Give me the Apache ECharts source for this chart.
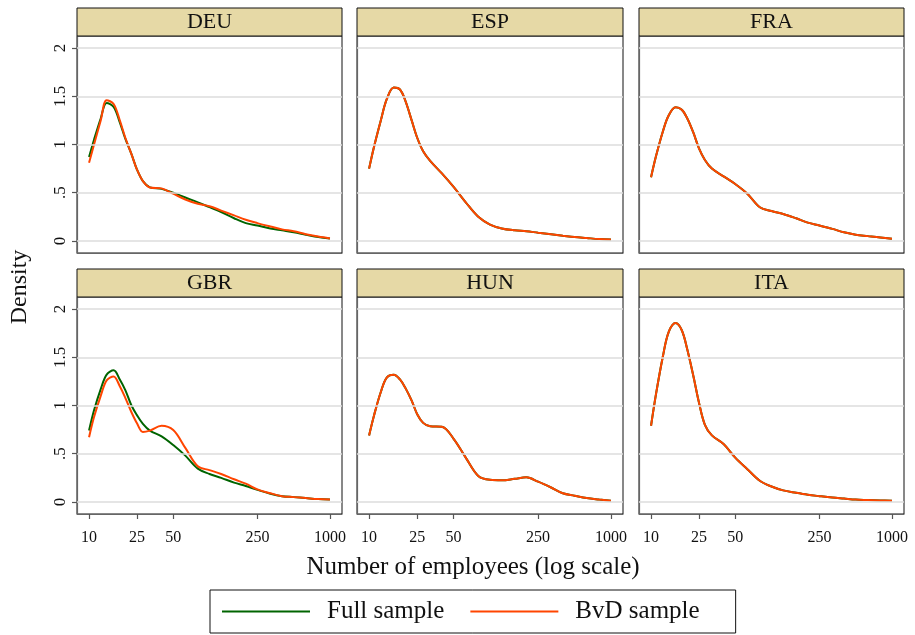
<!DOCTYPE html>
<html>
<head>
<meta charset="utf-8">
<script src="https://cdn.jsdelivr.net/npm/echarts@6/dist/echarts.min.js"></script>
<style>
html, body { margin: 0; padding: 0; background: #fff; }
#chart { width: 915px; height: 635px; }
</style>
</head>
<body>
<div id="chart"></div>
<script>
// Firm-size densities by country, full population vs. BvD subsample
const countries = ['DEU', 'ESP', 'FRA', 'GBR', 'HUN', 'ITA'];
const employees = [10, 11, 12.5, 14, 16, 18, 20, 22.5, 25, 28, 32, 40, 50, 63, 80, 100, 125, 160, 200, 250, 320, 400, 500, 630, 800, 1000];

const fullDEU = [0.87, 1.05, 1.27, 1.43, 1.39, 1.23, 1.06, 0.90, 0.74, 0.62, 0.555, 0.54, 0.50, 0.45, 0.40, 0.35, 0.30, 0.235, 0.185, 0.16, 0.13, 0.11, 0.09, 0.065, 0.04, 0.025];
const bvdDEU  = [0.81, 1.00, 1.25, 1.46, 1.42, 1.25, 1.07, 0.90, 0.74, 0.62, 0.555, 0.545, 0.49, 0.43, 0.385, 0.36, 0.315, 0.265, 0.22, 0.185, 0.15, 0.12, 0.10, 0.07, 0.045, 0.025];

const fullESP = [0.75, 0.98, 1.25, 1.47, 1.59, 1.57, 1.45, 1.25, 1.07, 0.93, 0.83, 0.70, 0.56, 0.40, 0.25, 0.17, 0.13, 0.11, 0.10, 0.085, 0.07, 0.055, 0.04, 0.03, 0.02, 0.015];
const bvdESP  = [0.75, 0.98, 1.25, 1.47, 1.59, 1.57, 1.45, 1.25, 1.07, 0.93, 0.83, 0.70, 0.56, 0.40, 0.25, 0.17, 0.13, 0.11, 0.10, 0.085, 0.07, 0.055, 0.04, 0.03, 0.02, 0.015];

const fullFRA = [0.66, 0.88, 1.13, 1.30, 1.385, 1.36, 1.27, 1.12, 0.96, 0.84, 0.75, 0.67, 0.59, 0.49, 0.35, 0.31, 0.28, 0.235, 0.19, 0.16, 0.125, 0.09, 0.065, 0.05, 0.035, 0.024];
const bvdFRA  = [0.66, 0.88, 1.13, 1.30, 1.385, 1.36, 1.27, 1.12, 0.96, 0.84, 0.75, 0.67, 0.59, 0.49, 0.35, 0.31, 0.28, 0.235, 0.19, 0.16, 0.125, 0.09, 0.065, 0.05, 0.035, 0.024];

const fullGBR = [0.74, 0.95, 1.17, 1.32, 1.365, 1.27, 1.16, 1.00, 0.90, 0.81, 0.74, 0.68, 0.59, 0.48, 0.345, 0.29, 0.25, 0.20, 0.165, 0.125, 0.085, 0.06, 0.05, 0.04, 0.03, 0.025];
const bvdGBR  = [0.67, 0.88, 1.10, 1.26, 1.30, 1.20, 1.08, 0.93, 0.815, 0.725, 0.74, 0.79, 0.745, 0.56, 0.37, 0.33, 0.29, 0.235, 0.19, 0.13, 0.09, 0.06, 0.05, 0.04, 0.03, 0.025];

const fullHUN = [0.69, 0.90, 1.14, 1.29, 1.32, 1.27, 1.18, 1.05, 0.91, 0.82, 0.785, 0.78, 0.655, 0.46, 0.27, 0.23, 0.225, 0.24, 0.255, 0.21, 0.15, 0.09, 0.065, 0.04, 0.025, 0.013];
const bvdHUN  = [0.69, 0.90, 1.14, 1.29, 1.32, 1.27, 1.18, 1.05, 0.91, 0.82, 0.785, 0.78, 0.655, 0.46, 0.27, 0.23, 0.225, 0.24, 0.255, 0.21, 0.15, 0.09, 0.065, 0.04, 0.025, 0.013];

const fullITA = [0.79, 1.12, 1.50, 1.76, 1.855, 1.78, 1.58, 1.30, 1.03, 0.80, 0.69, 0.60, 0.46, 0.34, 0.22, 0.16, 0.12, 0.095, 0.075, 0.06, 0.045, 0.035, 0.025, 0.02, 0.015, 0.012];
const bvdITA  = [0.79, 1.12, 1.50, 1.76, 1.855, 1.78, 1.58, 1.30, 1.03, 0.80, 0.69, 0.60, 0.46, 0.34, 0.22, 0.16, 0.12, 0.095, 0.075, 0.06, 0.045, 0.035, 0.025, 0.02, 0.015, 0.012];

const xTickValues = [10, 25, 50, 250, 1000];
const yTickValues = [0, 0.5, 1, 1.5, 2];
const yTickLabels = ['0', '.5', '1', '1.5', '2'];

const fullSeries = [fullDEU, fullESP, fullFRA, fullGBR, fullHUN, fullITA];
const bvdSeries  = [bvdDEU, bvdESP, bvdFRA, bvdGBR, bvdHUN, bvdITA];

const FONT = '"Liberation Serif", "Times New Roman", serif';
const GREEN = '#006400';
const ORANGE = '#ff4500';
const STRIP = '#e6d9a6';

// panel geometry (pixels)
const colLeft = [77, 357, 639];
const colWidth = [265, 266, 265];
const rowTop = [36, 297];
const plotHeight = 217;
const stripHeight = 28;

const log10 = v => Math.log10(v);
const pairs = ys => employees.map((e, i) => [log10(e), ys[i]]);

const grids = [], xAxes = [], yAxes = [], series = [], graphics = [];

countries.forEach((c, k) => {
  const row = Math.floor(k / 3), col = k % 3;
  const left = colLeft[col], top = rowTop[row], width = colWidth[col];
  grids.push({
    left: left, top: top, width: width, height: plotHeight,
    show: true, borderColor: '#111', borderWidth: 1, backgroundColor: '#fff'
  });
  const bottomRow = row === 1;
  const firstCol = col === 0;
  xAxes.push({
    type: 'value', gridIndex: k, min: 0.9, max: 3.1,
    axisLine: { show: true, onZero: false, lineStyle: { color: '#666', width: 1.2 } },
    axisTick: { show: bottomRow, length: 5, lineStyle: { color: '#555', width: 1.2 },
                customValues: xTickValues.map(log10) },
    axisLabel: { show: bottomRow, margin: 16, color: '#111', fontFamily: FONT, fontSize: 16,
                 customValues: xTickValues.map(log10),
                 formatter: v => String(Math.round(Math.pow(10, v))) },
    splitLine: { show: false }
  });
  yAxes.push({
    type: 'value', gridIndex: k, min: -0.125, max: 2.125,
    axisLine: { show: true, lineStyle: { color: '#666', width: 1.2 } },
    axisTick: { show: firstCol, length: 5, lineStyle: { color: '#555', width: 1.2 },
                customValues: yTickValues },
    axisLabel: { show: firstCol, rotate: 90, margin: 8, color: '#111', fontFamily: FONT, fontSize: 17,
                 customValues: yTickValues,
                 formatter: v => {
                   const i = yTickValues.findIndex(t => Math.abs(t - v) < 1e-6);
                   return i >= 0 ? yTickLabels[i] : '';
                 } },
    splitLine: { show: false }
  });
  // horizontal reference lines at the labelled densities
  series.push({
    name: 'rules', type: 'line', xAxisIndex: k, yAxisIndex: k, z: 1,
    data: [], silent: true,
    markLine: {
      silent: true, symbol: 'none', animation: false,
      label: { show: false },
      lineStyle: { color: '#dcdcdc', width: 1.6, type: 'solid' },
      data: yTickValues.map(v => ({ yAxis: v }))
    }
  });
  series.push({
    name: 'Full sample', type: 'line', xAxisIndex: k, yAxisIndex: k, z: 3,
    data: pairs(fullSeries[k]), smooth: 0.35, symbol: 'none', animation: false,
    lineStyle: { color: GREEN, width: 2 }, itemStyle: { color: GREEN }
  });
  series.push({
    name: 'BvD sample', type: 'line', xAxisIndex: k, yAxisIndex: k, z: 4,
    data: pairs(bvdSeries[k]), smooth: 0.35, symbol: 'none', animation: false,
    lineStyle: { color: ORANGE, width: 2 }, itemStyle: { color: ORANGE }
  });
  // country strip above each panel
  graphics.push({
    type: 'rect', silent: true, z: 10,
    shape: { x: left, y: top - stripHeight, width: width, height: stripHeight },
    style: { fill: STRIP, stroke: '#111', lineWidth: 1 }
  });
  graphics.push({
    type: 'text', silent: true, z: 11,
    x: left + width / 2, y: top - stripHeight / 2,
    style: { text: c, fill: '#111', font: '22px ' + FONT, align: 'center', verticalAlign: 'middle' }
  });
});

graphics.push({
  type: 'text', silent: true, z: 11, x: 20, y: 287, rotation: Math.PI / 2,
  style: { text: 'Density', fill: '#111', font: '24px ' + FONT, align: 'center', verticalAlign: 'middle' }
});
graphics.push({
  type: 'text', silent: true, z: 11, x: 473, y: 567,
  style: { text: 'Number of employees (log scale)', fill: '#111', font: '25px ' + FONT, align: 'center', verticalAlign: 'middle' }
});

const chart = echarts.init(document.getElementById('chart'), null, { renderer: 'canvas' });
chart.setOption({
  animation: false,
  backgroundColor: '#fff',
  grid: grids,
  xAxis: xAxes,
  yAxis: yAxes,
  series: series,
  graphic: graphics,
  legend: {
    data: ['Full sample', 'BvD sample'],
    left: 210, top: 590,
    orient: 'horizontal',
    icon: 'rect', itemWidth: 88, itemHeight: 2, itemGap: 26,
    padding: [9, 36, 9, 12],
    borderColor: '#111', borderWidth: 1,
    textStyle: { fontFamily: FONT, fontSize: 25, color: '#111', padding: [0, 0, 0, 12] },
    selectedMode: false
  }
});
</script>
</body>
</html>
